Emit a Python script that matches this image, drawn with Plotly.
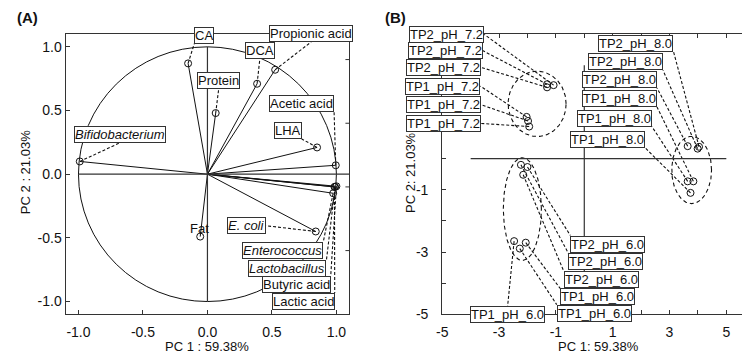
import numpy as np
import plotly.graph_objects as go

# ---------------- Panel A: loadings ----------------
var_names = ["CA", "Protein", "DCA", "Propionic acid", "Acetic acid", "LHA",
             "Bifidobacterium", "Fat", "E. coli", "Enterococcus", "Lactobacillus",
             "Butyric acid", "Lactic acid"]
load_pc1 = [-0.15, 0.064, 0.385, 0.525, 0.995, 0.85, -0.99, -0.056, 0.84, 0.975, 0.99, 1.0, 0.985]
load_pc2 = [0.87, 0.48, 0.71, 0.82, 0.07, 0.21, 0.10, -0.49, -0.45, -0.15, -0.10, -0.095, -0.10]
var_italic = [False, False, False, False, False, False, True, False, True, True, True, False, False]

# label anchor positions (connector attaches here)
varlab_x = [-0.102, 0.087, 0.406, 0.804, 0.982, 0.731, -0.679, -0.06, 0.454, 0.898, 0.923, 0.956, 0.987]
varlab_y = [1.025, 0.667, 0.902, 1.038, 0.492, 0.277, 0.246, -0.43, -0.405, -0.533, -0.672, -0.80, -0.933]
varlab_xa = ["left", "center", "center", "center", "right", "right", "center", "center",
             "right", "right", "right", "right", "right"]
varlab_ya = ["bottom", "bottom", "bottom", "bottom", "bottom", "bottom", "bottom", "middle",
             "middle", "top", "top", "top", "top"]
varlab_box = [True, True, True, True, True, True, True, False, True, True, True, True, True]

a_ticks = [-1.0, -0.5, 0.0, 0.5, 1.0]
a_ticktext = ["-1.0", "-0.5", "0.0", "0.5", "1.0"]
a_right_ticks = [0.9, 0.4, -0.1, -0.6]

# ---------------- Panel B: scores ----------------
sample_names = ["TP2_pH_7.2"] * 3 + ["TP1_pH_7.2"] * 3 + ["TP2_pH_8.0"] * 3 + \
               ["TP1_pH_8.0"] * 3 + ["TP2_pH_6.0"] * 3 + ["TP1_pH_6.0"] * 3
score_pc1 = [-1.08, -1.31, -1.31, -2.03, -1.98, -1.94,
             4.04, 3.99, 3.64, 3.84, 3.64, 3.74,
             -2.00, -2.23, -2.15, -2.06, -2.27, -2.47]
score_pc2 = [2.36, 2.39, 2.29, 1.34, 1.21, 1.03,
             0.38, 0.32, 0.40, -0.73, -0.73, -1.10,
             -0.27, -0.20, -0.52, -2.70, -2.89, -2.65]
samplab_x = [-3.52, -3.58, -3.63, -3.66, -3.63, -3.63,
             3.14, 2.77, 2.56, 2.56, 2.38, 2.15,
             -0.49, -0.56, -0.73, -0.85, -0.97, -2.70]
samplab_y = [3.99, 3.47, 2.93, 2.33, 1.73, 1.13,
             3.44, 2.84, 2.27, 1.66, 1.03, 0.34,
             -2.47, -3.04, -3.60, -4.17, -4.69, -4.75]
samplab_xa = ["right"] * 6 + ["right"] * 6 + ["left"] * 5 + ["center"]
samplab_ya = ["middle"] * 6 + ["bottom"] * 6 + ["top"] * 6

# group ellipses: centre, semi-axes
ell_cx = [-1.66, 3.78, -2.18]
ell_cy = [1.76, -0.365, -1.62]
ell_rx = [1.02, 0.70, 0.67]
ell_ry = [1.05, 1.08, 1.65]

b_xticks = list(range(-5, 7))
b_xtext = [str(v) if v % 2 else "" for v in b_xticks]
b_yticks = list(range(-5, 5))
b_ytext = [str(v) if (v % 2 and v < 0) else "" for v in b_yticks]

FONT = "Liberation Sans, Arial, sans-serif"
INK = "#111111"
FRAME = "#333333"

fig = go.Figure()

# ---- panel A traces ----
vx, vy = [], []
for x, y in zip(load_pc1, load_pc2):
    vx += [0, x, None]
    vy += [0, y, None]
fig.add_trace(go.Scatter(x=vx, y=vy, mode="lines", line=dict(color=INK, width=1),
                         xaxis="x", yaxis="y", hoverinfo="skip", showlegend=False))
cx, cy = [], []
for x, y, lx, ly, b in zip(load_pc1, load_pc2, varlab_x, varlab_y, varlab_box):
    if b:
        cx += [x, lx, None]
        cy += [y, ly, None]
fig.add_trace(go.Scatter(x=cx, y=cy, mode="lines", line=dict(color=INK, width=1.1, dash="3px,2px"),
                         xaxis="x", yaxis="y", hoverinfo="skip", showlegend=False))
fig.add_trace(go.Scatter(x=load_pc1, y=load_pc2, mode="markers", text=var_names,
                         marker=dict(symbol="circle-open", size=7, color=INK, line=dict(width=1)),
                         xaxis="x", yaxis="y", showlegend=False))

# ---- panel B traces ----
t = np.linspace(0, 2 * np.pi, 200)
for ex, ey, rx, ry in zip(ell_cx, ell_cy, ell_rx, ell_ry):
    fig.add_trace(go.Scatter(x=ex + rx * np.cos(t), y=ey + ry * np.sin(t), mode="lines",
                             line=dict(color=INK, width=1.1, dash="4px,3px"),
                             xaxis="x2", yaxis="y2", hoverinfo="skip", showlegend=False))
cx, cy = [], []
for x, y, lx, ly in zip(score_pc1, score_pc2, samplab_x, samplab_y):
    cx += [x, lx, None]
    cy += [y, ly, None]
fig.add_trace(go.Scatter(x=cx, y=cy, mode="lines", line=dict(color=INK, width=1.1, dash="3px,2px"),
                         xaxis="x2", yaxis="y2", hoverinfo="skip", showlegend=False))
fig.add_trace(go.Scatter(x=score_pc1, y=score_pc2, mode="markers", text=sample_names,
                         marker=dict(symbol="circle-open", size=7, color=INK, line=dict(width=1)),
                         xaxis="x2", yaxis="y2", showlegend=False))

shapes = [
    dict(type="circle", xref="x", yref="y", x0=-1, y0=-1, x1=1, y1=1,
         line=dict(color=INK, width=1), layer="below"),
    dict(type="line", xref="x", yref="y", x0=-1, y0=0, x1=1.1, y1=0, line=dict(color=FRAME, width=1.2)),
    dict(type="line", xref="x", yref="y", x0=0, y0=-1, x1=0, y1=1, line=dict(color=FRAME, width=1.2)),
    dict(type="line", xref="x2", yref="y2", x0=-4, y0=0, x1=5, y1=0, line=dict(color=FRAME, width=1.2)),
    dict(type="line", xref="x2", yref="y2", x0=0, y0=-5, x1=0, y1=3, line=dict(color=FRAME, width=1.2)),
]
for v in a_right_ticks:
    shapes.append(dict(type="line", xref="x", yref="y", x0=1.07, y0=v, x1=1.1, y1=v,
                       line=dict(color=FRAME, width=1)))

annotations = []
for name, lx, ly, xa, ya, it, b in zip(var_names, varlab_x, varlab_y, varlab_xa, varlab_ya,
                                        var_italic, varlab_box):
    annotations.append(dict(
        x=lx, y=ly, xref="x", yref="y", xanchor=xa, yanchor=ya, showarrow=False,
        text=f"<i>{name}</i>" if it else name,
        font=dict(family=FONT, size=13, color=INK),
        bgcolor="white" if b else "rgba(0,0,0,0)",
        bordercolor=FRAME if b else "rgba(0,0,0,0)", borderwidth=1 if b else 0, borderpad=0))
for name, lx, ly, xa, ya in zip(sample_names, samplab_x, samplab_y, samplab_xa, samplab_ya):
    annotations.append(dict(
        x=lx, y=ly, xref="x2", yref="y2", xanchor=xa, yanchor=ya, showarrow=False,
        text=name, font=dict(family=FONT, size=13, color=INK),
        bgcolor="white", bordercolor=FRAME, borderwidth=1, borderpad=0))

def ptext(text, px, py, size=13, angle=0, bold=False, xa="center"):
    return dict(x=px / 750, y=1 - py / 356, xref="paper", yref="paper", showarrow=False,
                text=f"<b>{text}</b>" if bold else text, textangle=angle, xanchor=xa, yanchor="middle",
                font=dict(family=FONT, size=size, color=INK))

annotations += [
    ptext("(A)", 1, 10, size=15, bold=True, xa="left"),
    ptext("(B)", 372, 10, size=15, bold=True, xa="left"),
    ptext("PC 2 : 21.03%", 11, 168, angle=-90),
    ptext("PC 1 : 59.38%", 195, 346),
    ptext("PC 2: 21.03%", 399, 168, angle=-90),
    ptext("PC 1: 59.38%", 589, 346),
]

axis_common = dict(showgrid=False, zeroline=False, showline=True, linecolor=FRAME, linewidth=1.2,
                   ticks="inside", ticklen=4, tickcolor=FRAME,
                   tickfont=dict(family=FONT, size=14, color=INK))

fig.update_layout(
    width=750, height=356, margin=dict(l=0, r=0, t=0, b=0),
    paper_bgcolor="white", plot_bgcolor="white", showlegend=False,
    xaxis=dict(domain=[52 / 750, 338 / 750], range=[-1.1, 1.1], anchor="y", mirror=True,
               tickvals=a_ticks, ticktext=a_ticktext, ticklabelstandoff=5, **axis_common),
    yaxis=dict(domain=[1 - 313.3 / 356, 1 - 26.7 / 356], range=[-1.1, 1.1], anchor="x", mirror=True,
               tickvals=a_ticks, ticktext=a_ticktext, **axis_common),
    xaxis2=dict(domain=[431.7 / 750, 746.7 / 750], range=[-5, 6], anchor="y2", mirror="allticks",
                tickvals=b_xticks, ticktext=b_xtext, ticklabelstandoff=5, **axis_common),
    yaxis2=dict(domain=[1 - 313.3 / 356, 1 - 26.7 / 356], range=[-5, 4], anchor="x2", mirror="allticks",
                tickvals=b_yticks, ticktext=b_ytext, ticklabelstandoff=10, **axis_common),
    shapes=shapes, annotations=annotations,
)

fig.write_html("out.html")
